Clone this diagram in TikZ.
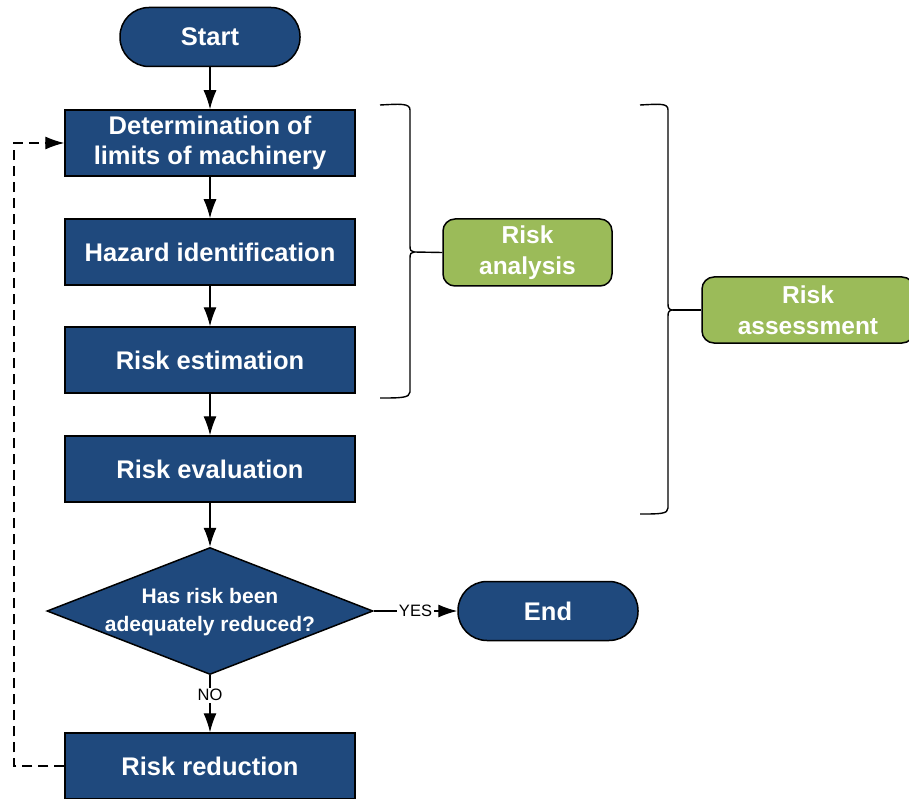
\documentclass[tikz,border=0pt]{standalone}
\usepackage{fontspec}
\setmainfont{Liberation Sans}
\usetikzlibrary{arrows.meta,shapes.geometric}
\definecolor{boxblue}{RGB}{31,73,125}
\definecolor{boxgreen}{RGB}{155,187,89}
\begin{document}
\begin{tikzpicture}[x=1pt,y=-1pt,
  every node/.style={inner sep=0pt},
  procbox/.style={draw=black,line width=1.5pt,fill=boxblue,text=white,
    minimum width=290pt,minimum height=66pt,align=center,
    font=\bfseries\fontsize{25.5}{30}\selectfont},
  termbox/.style={draw=black,line width=1.5pt,fill=boxblue,text=white,
    minimum width=180pt,minimum height=59pt,rounded corners=29pt,align=center,
    font=\bfseries\fontsize{25.5}{30}\selectfont},
  decbox/.style={diamond,draw=black,line width=1.5pt,fill=boxblue,
    minimum width=326pt,minimum height=127pt},
  dectext/.style={text=white,align=center,font=\bfseries\fontsize{21}{28}\selectfont},
  greenbox/.style={draw=black,line width=1.5pt,fill=boxgreen,text=white,
    rounded corners=12pt,align=center,
    font=\bfseries\fontsize{24.5}{31}\selectfont},
  flow/.style={draw=black,line width=1.2pt,-{Latex[length=19pt,width=13pt]}},
  feedback/.style={draw=black,line width=1.2pt,dash pattern=on 10pt off 6pt,-{Latex[length=19pt,width=13pt]}},
  bracepath/.style={draw=black,line width=1.4pt},
  lbl/.style={fill=white,text=black,font=\fontsize{16.5}{18}\selectfont,inner sep=1.5pt}
]
\useasboundingbox (0,0) rectangle (909,799);

\node[termbox] (start) at (210,37) {Start};
\node[procbox] (limits) at (210,143) {Determination of\\limits of machinery};
\node[procbox] (hazard) at (210,252) {Hazard identification};
\node[procbox] (estim) at (210,360) {Risk estimation};
\node[procbox] (evalu) at (210,469) {Risk evaluation};
\node[decbox] (dec) at (210,611) {};
\node[dectext] (dectxt) at (210,612) {Has risk been\\adequately reduced?};
\node[termbox] (end) at (548,611) {End};
\node[procbox] (reduc) at (210,766) {Risk reduction};

\node[greenbox,minimum width=169pt,minimum height=67pt] (analysis) at (527.5,252.5) {Risk\\analysis};
\node[greenbox,minimum width=212pt,minimum height=66pt] (assess) at (808,310) {Risk\\assessment};

\draw[flow] (start) -- (limits);
\draw[flow] (limits) -- (hazard);
\draw[flow] (hazard) -- (estim);
\draw[flow] (estim) -- (evalu);
\draw[flow] (evalu) -- (dec.north);
\draw[flow] (dec.east) -- node[lbl] {YES} (end);
\draw[flow] (dec.south) -- node[lbl,pos=0.35] {NO} (reduc);
\coordinate (fbx) at (14,766);
\draw[feedback] (reduc.west) -- (fbx) |- (limits.west);

% brace for risk analysis
\coordinate (tipA) at (414,252);
\draw[bracepath] (380,105) .. controls (400,104) and (410,103) .. (410,110)
  -- (410,246) .. controls (410,250) and (411,252) .. (tipA)
  .. controls (411,252) and (410,254) .. (410,258)
  -- (410,392) .. controls (410,398) and (400,398) .. (380,398);
\draw[bracepath] (tipA) -- (analysis.west);

% brace for risk assessment
\coordinate (tipB) at (673,310);
\draw[bracepath] (640,105) .. controls (660,104) and (668,103) .. (668,110)
  -- (668,304) .. controls (668,308) and (669,310) .. (tipB)
  .. controls (669,310) and (668,312) .. (668,316)
  -- (668,508) .. controls (668,514) and (660,514) .. (640,514);
\draw[bracepath] (tipB) -- (assess.west);
\end{tikzpicture}
\end{document}
